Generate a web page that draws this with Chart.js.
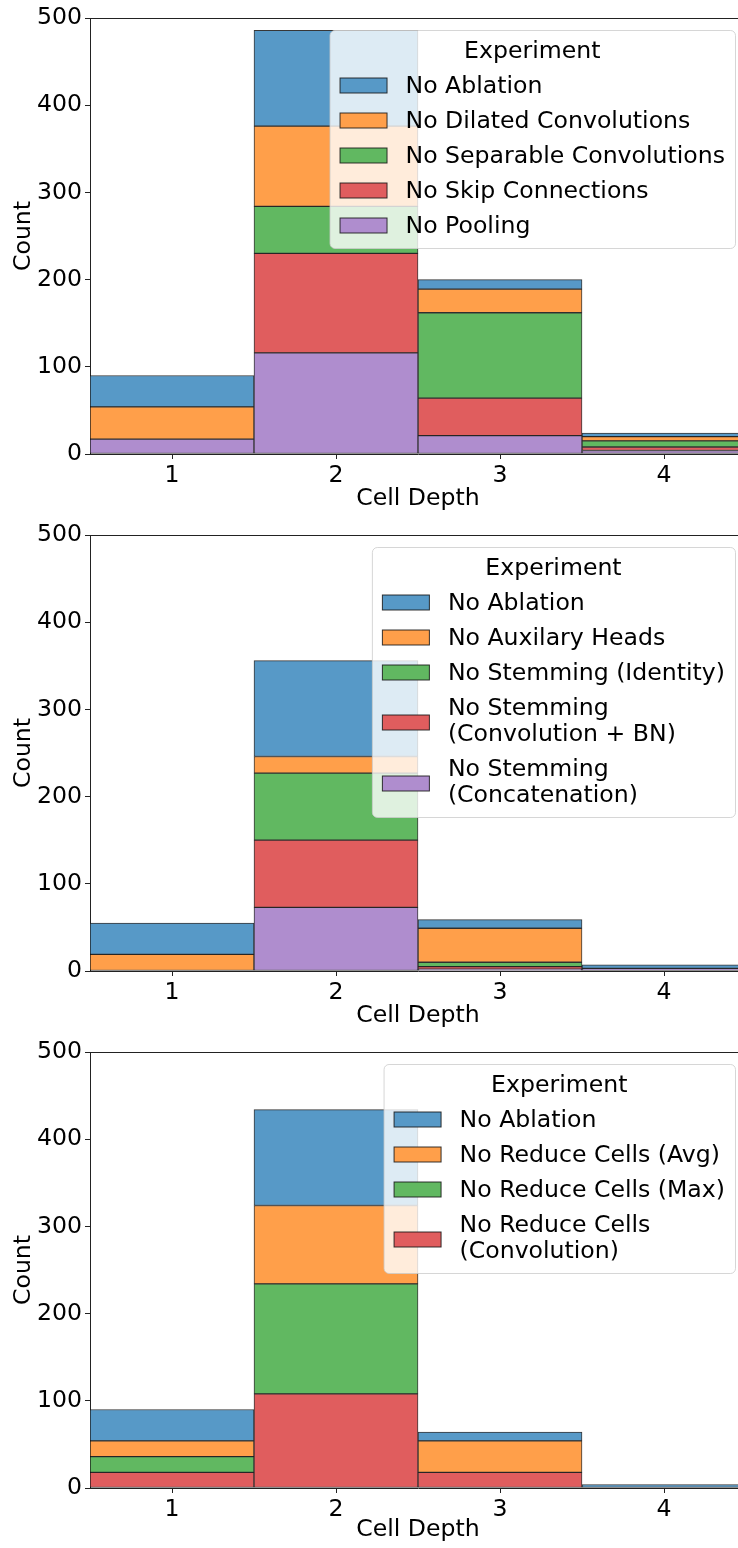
<!DOCTYPE html>
<html>
<head>
<meta charset="utf-8">
<script src="https://cdn.jsdelivr.net/npm/chart.js@4.4.1/dist/chart.umd.min.js"></script>
<style>
  body { margin: 0; background: #fff; overflow: hidden; width: 738px; }
  canvas { display: block; }
</style>
</head>
<body>
<!-- canvases run a little past the page edge, like the clipped original axes -->
<canvas id="chart1" width="746" height="517"></canvas>
<canvas id="chart2" width="746" height="517"></canvas>
<canvas id="chart3" width="746" height="514"></canvas>
<script>
// Cell depth bins
var cellDepths = ['1', '2', '3', '4'];
var yTicksMax = 500;

// Panel 1
var noAblation1 = [36, 110, 11, 4];
var noDilated = [37, 92, 27, 5];
var noSeparable = [0, 54, 98, 7];
var noSkip = [0, 114, 43, 4];
var noPooling = [17, 116, 21, 4];

// Panel 2
var noAblation2 = [36, 110, 10, 4];
var noAuxHeads = [19, 19, 39, 0];
var stemIdentity = [0, 77, 5, 0];
var stemConvBN = [0, 77, 3, 0];
var stemConcat = [0, 73, 2, 3];

// Panel 3
var noAblation3 = [36, 110, 10, 4];
var reduceAvg = [18, 90, 36, 0];
var reduceMax = [18, 126, 0, 0];
var reduceConv = [18, 108, 18, 0];

// seaborn tab10 at alpha 0.75 on white
var BLUE = 'rgb(87,153,199)';
var ORANGE = 'rgb(255,159,74)';
var GREEN = 'rgb(97,184,97)';
var RED = 'rgb(224,93,94)';
var PURPLE = 'rgb(175,141,206)';

var FONT = '"DejaVu Sans", "Liberation Sans", sans-serif';
var FS = 23.6;
var PAGE_W = 738;

function series(label, data, color) {
    return {
        label: label,
        data: data,
        backgroundColor: color,
        borderColor: 'rgba(20,20,20,0.85)',
        borderWidth: 1,
        borderSkipped: false,
        categoryPercentage: 1,
        barPercentage: 1
    };
}

// matplotlib-style legend box in the upper right corner
var boxLegend = {
    id: 'boxLegend',
    afterDraw: function(chart) {
        var ctx = chart.ctx;
        var area = chart.chartArea;
        var items = chart.data.datasets.slice().reverse();
        ctx.save();
        ctx.font = FS + 'px ' + FONT;
        var maxW = ctx.measureText('Experiment').width;
        items.forEach(function(ds) {
            ds.label.split('\n').forEach(function(line) {
                maxW = Math.max(maxW, ctx.measureText(line).width);
            });
        });
        // rows
        var top = area.top + 12;
        var y = top + 55;
        var rows = [];
        items.forEach(function(ds) {
            var lines = ds.label.split('\n');
            var ys = lines.map(function(l, i) { return y + i * 26; });
            var last = ys[ys.length - 1];
            rows.push({ ds: ds, lines: lines, ys: ys, sw: (y + last) / 2 + (lines.length > 1 ? 2 : 0) });
            y = last + 35;
        });
        var bottom = y - 35 + 23;
        var w = 76 + maxW + 10;
        var right = PAGE_W - 3;
        var left = right - w;

        ctx.beginPath();
        ctx.roundRect(left + 0.5, top + 0.5, w, bottom - top, 5);
        ctx.fillStyle = 'rgba(255,255,255,0.8)';
        ctx.fill();
        ctx.strokeStyle = 'rgba(204,204,204,0.8)';
        ctx.lineWidth = 1;
        ctx.stroke();

        ctx.fillStyle = '#000';
        ctx.textBaseline = 'middle';
        ctx.textAlign = 'center';
        ctx.fillText('Experiment', left + w / 2, top + 21.5);
        ctx.textAlign = 'left';
        rows.forEach(function(r) {
            ctx.fillStyle = r.ds.backgroundColor;
            ctx.fillRect(left + 10.5, r.sw - 7, 47, 15);
            ctx.strokeStyle = 'rgba(20,20,20,0.85)';
            ctx.strokeRect(left + 10.5, r.sw - 7, 47, 15);
            ctx.fillStyle = '#000';
            r.lines.forEach(function(line, i) {
                ctx.fillText(line, left + 76, r.ys[i] + 1.5);
            });
        });
        ctx.restore();
    }
};

// top spine
var topSpine = {
    id: 'topSpine',
    afterDatasetsDraw: function(chart) {
        var ctx = chart.ctx;
        var a = chart.chartArea;
        ctx.save();
        ctx.strokeStyle = '#222';
        ctx.lineWidth = 1;
        ctx.beginPath();
        ctx.moveTo(a.left, a.top + 0.5);
        ctx.lineTo(a.right, a.top + 0.5);
        ctx.stroke();
        ctx.restore();
    }
};

function makeChart(id, datasets, height) {
    var ctx = document.getElementById(id).getContext('2d');
    return new Chart(ctx, {
        type: 'bar',
        data: { labels: cellDepths, datasets: datasets },
        options: {
            responsive: false,
            animation: false,
            layout: { padding: { top: 18, left: 0, right: 0, bottom: 0 } },
            plugins: { legend: { display: false }, tooltip: { enabled: false } },
            scales: {
                x: {
                    stacked: true,
                    offset: true,
                    grid: { display: true, offset: false, drawOnChartArea: false, drawTicks: true, tickLength: 5, tickColor: '#222' },
                    border: { display: true, color: '#222', width: 1 },
                    ticks: { color: '#000', font: { family: FONT, size: FS }, padding: 3, maxRotation: 0 },
                    title: { display: true, text: 'Cell Depth', color: '#000', font: { family: FONT, size: FS }, padding: { top: 0, bottom: 4 } },
                    afterFit: function(scale) { scale.height = height - 18 - 436; }
                },
                y: {
                    stacked: true,
                    min: 0,
                    max: yTicksMax,
                    grid: { display: true, drawOnChartArea: false, drawTicks: true, tickLength: 5, tickColor: '#222' },
                    border: { display: true, color: '#222', width: 1 },
                    ticks: { stepSize: 100, color: '#000', font: { family: FONT, size: FS }, padding: 3 },
                    title: { display: true, text: 'Count', color: '#000', font: { family: FONT, size: FS }, padding: { top: 10, bottom: 0 } },
                    afterFit: function(scale) { scale.width = 90; }
                }
            }
        },
        plugins: [topSpine, boxLegend]
    });
}

// stacks go bottom -> top
makeChart('chart1', [
    series('No Pooling', noPooling, PURPLE),
    series('No Skip Connections', noSkip, RED),
    series('No Separable Convolutions', noSeparable, GREEN),
    series('No Dilated Convolutions', noDilated, ORANGE),
    series('No Ablation', noAblation1, BLUE)
], 517);

makeChart('chart2', [
    series('No Stemming\n(Concatenation)', stemConcat, PURPLE),
    series('No Stemming\n(Convolution + BN)', stemConvBN, RED),
    series('No Stemming (Identity)', stemIdentity, GREEN),
    series('No Auxilary Heads', noAuxHeads, ORANGE),
    series('No Ablation', noAblation2, BLUE)
], 517);

makeChart('chart3', [
    series('No Reduce Cells\n(Convolution)', reduceConv, RED),
    series('No Reduce Cells (Max)', reduceMax, GREEN),
    series('No Reduce Cells (Avg)', reduceAvg, ORANGE),
    series('No Ablation', noAblation3, BLUE)
], 514);
</script>
</body>
</html>
